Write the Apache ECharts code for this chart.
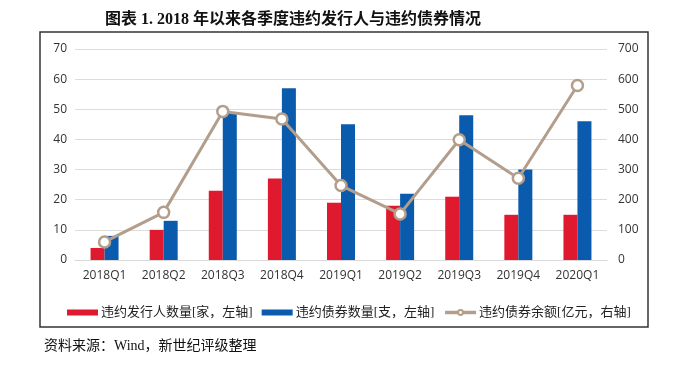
<!DOCTYPE html>
<html>
<head>
<meta charset="utf-8">
<script src="https://cdn.jsdelivr.net/npm/echarts@6/dist/echarts.min.js"></script>
<style>html,body{margin:0;padding:0;background:#fff;}#c{width:687px;height:372px;}</style>
</head>
<body>
<div id="c"></div>
<script>
const categories = ['2018Q1','2018Q2','2018Q3','2018Q4','2019Q1','2019Q2','2019Q3','2019Q4','2020Q1'];
const issuers = [4, 10, 23, 27, 19, 18, 21, 15, 15];
const bonds = [8, 13, 49, 57, 45, 22, 48, 30, 46];
const balance = [60, 158, 493, 468, 247, 153, 399, 271, 579];
const leftTicks = [0, 70, 10];
const rightTicks = [0, 700, 100];
const seriesNames = ['违约发行人数量[家，左轴]', '违约债券数量[支，左轴]', '违约债券余额[亿元，右轴]'];
const titleText = '图表 1. 2018 年以来各季度违约发行人与违约债券情况';
const sourceText = '资料来源：Wind，新世纪评级整理';

const chart = echarts.init(document.getElementById('c'));
const serifCJK = '"Liberation Serif", "Noto Sans CJK SC", serif';
const axisFont = '"Open Sans", "Noto Sans", sans-serif';
chart.setOption({
  animation: false,
  title: {
    text: titleText, left: 100, top: 7,
    textStyle: { fontSize: 16, fontWeight: 'bold', color: '#111', fontFamily: serifCJK }
  },
  graphic: [
    { type: 'rect', shape: { x: 40, y: 32, width: 608, height: 295 },
      style: { fill: 'none', stroke: '#333', lineWidth: 1.5 }, silent: true },
    { type: 'text', left: 44, top: 339,
      style: { text: sourceText, fontSize: 14, fill: '#111', fontFamily: serifCJK } }
  ],
  legend: {
    left: 62, top: 301, itemWidth: 31, itemHeight: 6, itemGap: 9,
    textStyle: { fontSize: 13, color: '#222', fontFamily: serifCJK, padding: [0, 0, 0, -2] },
    data: [
      { name: seriesNames[0], icon: 'rect' },
      { name: seriesNames[1], icon: 'rect' },
      { name: seriesNames[2], itemWidth: 35, lineStyle: { width: 3.5, color: '#b39e8c' } }
    ]
  },
  grid: { left: 75, right: 80, top: 49, bottom: 112 },
  xAxis: {
    type: 'category', data: categories,
    axisLine: { lineStyle: { color: '#d9d9d9' } },
    axisTick: { show: false },
    axisLabel: { color: '#333', fontSize: 12, margin: 10, fontFamily: axisFont }
  },
  yAxis: [
    { type: 'value', min: leftTicks[0], max: leftTicks[1], interval: leftTicks[2],
      axisLabel: { color: '#333', fontSize: 12, margin: 8, fontFamily: axisFont },
      splitLine: { lineStyle: { color: '#dcdcdc' } },
      axisLine: { show: false }, axisTick: { show: false } },
    { type: 'value', min: rightTicks[0], max: rightTicks[1], interval: rightTicks[2],
      position: 'right',
      axisLabel: { color: '#333', fontSize: 12, margin: 11, fontFamily: axisFont },
      splitLine: { show: false },
      axisLine: { show: false }, axisTick: { show: false } }
  ],
  series: [
    { name: seriesNames[0], type: 'bar', data: issuers, barWidth: 14, barGap: '0%',
      itemStyle: { color: '#df1a2e' } },
    { name: seriesNames[1], type: 'bar', data: bonds, barWidth: 14, barGap: '0%',
      itemStyle: { color: '#0a5bad' } },
    { name: seriesNames[2], type: 'line', yAxisIndex: 1, data: balance,
      symbol: 'circle', symbolSize: 11,
      lineStyle: { color: '#b39e8c', width: 3 },
      itemStyle: { color: '#fff', borderColor: '#b39e8c', borderWidth: 2.5 } }
  ]
});
</script>
</body>
</html>
